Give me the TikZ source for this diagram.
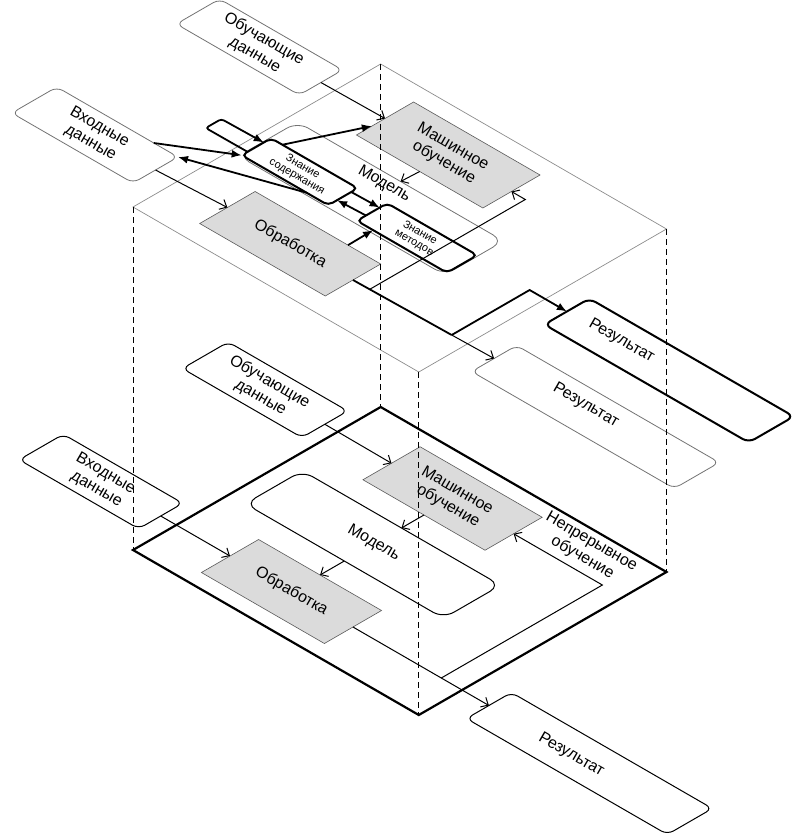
\documentclass[tikz,border=0pt]{standalone}
\usepackage{fontspec}
\setmainfont{Liberation Sans}
\usetikzlibrary{arrows.meta,calc}

% Sizes of the two planes (iso units)
\def\sheetA{330}
\def\sheetB{286}

\tikzset{
  lower level/.style={cm={0.866,-0.5,0.866,0.5,(133pt,-550pt)}},
  upper level/.style={cm={0.866,-0.5,0.866,0.5,(133pt,-207pt)}},
  sheet/.style={draw, transform shape, inner sep=0pt, outer sep=0pt},
  box/.style={draw, fill=white, rounded corners=7pt, transform shape,
    inner sep=0pt, outer sep=0pt, line width=1pt},
  faint box/.style={box, draw=black!55, line width=0.8pt},
  bold box/.style={box, rounded corners=5pt, line width=2pt},
  task/.style={draw=black!65, fill=black!14, transform shape,
    inner sep=0pt, outer sep=0pt, line width=0.6pt},
  lbl/.style={rotate=-30, align=center, inner sep=0pt,
    font=\fontsize{16}{18}\selectfont},
  small lbl/.style={lbl, font=\fontsize{11}{11.5}\selectfont},
  flow/.style={-{Straight Barb[length=6pt,width=11pt]}, line width=1pt},
  heavy/.style={line width=1.8pt},
  push/.style={heavy, -{Latex[length=10pt,width=8pt]}},
  drop/.style={dash pattern=on 6pt off 4pt, line width=0.9pt},
}

\begin{document}
\begin{tikzpicture}[x=1pt,y=1pt,>=Latex]

\useasboundingbox (0,0) rectangle (803,-840);

% ---------------- Lower level ----------------
\begin{scope}[lower level]

% Lower plane
\node[sheet, line width=2.2pt,
    minimum width=\sheetA pt, minimum height=\sheetB pt]
    (lp) at (\sheetA/2,\sheetB/2) {};

% Boxes
\node[box, minimum width=138pt, minimum height=53pt] (od) at (-84,236.5) {};
\node[box, minimum width=138pt, minimum height=51pt] (vd) at (-87,50) {};
\node[task, minimum width=141pt, minimum height=66pt] (mo) at (133,236) {};
\node[box, rounded corners=12pt,
    minimum width=229pt, minimum height=66pt] (model) at (133,144) {};
\node[task, minimum width=142pt, minimum height=66pt] (obr) at (133,50) {};
\node[box, minimum width=232pt, minimum height=52pt] (res) at (477,50) {};

% Connectors
\draw[flow] (od.east) -- (mo.west);
\draw[flow] (vd.east) -- (obr.west);
\draw[flow] (mo.south) -- (model.north);
\draw[flow] (model.south) -- (obr.north);
\draw[flow] (obr.east) -- (res.west);

% Continuous learning loop
\coordinate (fb) at (306,50);
\coordinate (fb-turn) at (306,236);
\draw[flow] (fb) -- (fb-turn) -- (mo.east);

% Labels
\node[lbl] (od-t) at (od) {Обучающие\\данные};
\node[lbl] (vd-t) at (vd) {Входные\\данные};
\node[lbl] (mo-t) at (mo) {Машинное\\обучение};
\node[lbl] (model-t) at (132,146) {Модель};
\node[lbl] (obr-t) at (obr) {Обработка};
\node[lbl] (res-t) at (458,48) {Результат};
\node[lbl] (cont-t) at (262,262) {Непрерывное\\обучение};

\end{scope}

% ---------------- Upper level ----------------
\begin{scope}[upper level]

% Upper plane
\node[sheet, draw=black!45, line width=0.7pt,
    minimum width=\sheetA pt, minimum height=\sheetB pt]
    (up) at (\sheetA/2,\sheetB/2) {};

% Model frame
\node[faint box, fill=none, rounded corners=12pt,
    minimum width=238pt, minimum height=68pt] (model2) at (129,146) {};

% Boxes
\node[faint box, minimum width=142pt, minimum height=50pt] (od2) at (-87,233) {};
\node[faint box, minimum width=140pt, minimum height=52pt] (vd2) at (-94,50) {};
\node[task, minimum width=145pt, minimum height=64pt] (obr2) at (127.5,54) {};
\node[task, minimum width=146pt, minimum height=66pt] (mo2) at (130,234) {};
\node[bold box, minimum width=100pt, minimum height=34pt] (zs) at (61,131.5) {};
\node[bold box, minimum width=104pt, minimum height=35pt] (zm) at (195,133) {};
\node[box, line width=2pt, minimum width=236pt, minimum height=52pt] (res2) at (473,146) {};
\node[faint box, minimum width=234pt, minimum height=52pt] (res2g) at (477,57) {};

% Plain connectors
\draw[flow] (od2.east) -- (mo2.west);
\draw[flow] (vd2.east) -- (obr2.west);
\draw[flow] (mo2.south) -- (model2.north);

% Output of processing
\coordinate (split) at (312,56);
\coordinate (split-up) at (312,146);
\draw[heavy] (obr2.east) -- (split);
\draw[push] (split) -- (split-up) -- (res2.west);
\draw[flow] (split) -- (res2g.west);

% Learning loop
\coordinate (fb2) at (219,54.5);
\coordinate (fb2-turn) at (219,234);
\draw[flow] (fb2) -- (fb2-turn) -- (mo2.east);

% Knowledge links
\draw[push] ($(vd2.north west)!0.8!(vd2.north east)$) -- (zs.south west);
\draw[push] ($(zs.south west)!0.75!(zs.south east)$) -- (vd2.north east);
\draw[push] ($(zs.north west)!0.13!(zs.north east)$)
    -- ($(mo2.south west)!0.27!(mo2.north west)$);
\draw[push] ($(zs.south east)!0.78!(zs.north east)$)
    -- ($(zm.south west)!0.75!(zm.north west)$);
\draw[push] ($(zm.south west)!0.3!(zm.north west)$)
    -- ($(zs.south east)!0.3!(zs.north east)$);
\draw[push] ($(obr2.north west)!0.74!(obr2.north east)$)
    -- ($(zm.south west)!0.18!(zm.south east)$);

% Self loop on content knowledge
\coordinate (loop-a) at (-37,121);
\coordinate (loop-b) at (-37,139);
\draw[push, rounded corners=3pt]
    ($(zs.south west)!0.2!(zs.north west)$) -- (loop-a) -- (loop-b)
    -- ($(zs.south west)!0.75!(zs.north west)$);

% Labels
\node[lbl] (od2-t) at (od2) {Обучающие\\данные};
\node[lbl] (vd2-t) at (vd2) {Входные\\данные};
\node[lbl] (obr2-t) at (obr2) {Обработка};
\node[lbl] (mo2-t) at (mo2) {Машинное\\обучение};
\node[lbl] (model2-t) at (122,168) {Модель};
\node[small lbl] (zs-t) at (zs) {Знание\\содержания};
\node[small lbl] (zm-t) at (zm) {Знание\\методов};
\node[lbl] (res2-t) at (416,148) {Результат};
\node[lbl] (res2g-t) at (460,63) {Результат};

\end{scope}

% Vertical drops between the planes
\draw[drop] (up.south west) -- (lp.south west);
\draw[drop] (up.north west) -- (lp.north west);
\draw[drop] (up.north east) -- (lp.north east);
\draw[drop] (up.south east) -- (lp.south east);

\end{tikzpicture}
\end{document}
